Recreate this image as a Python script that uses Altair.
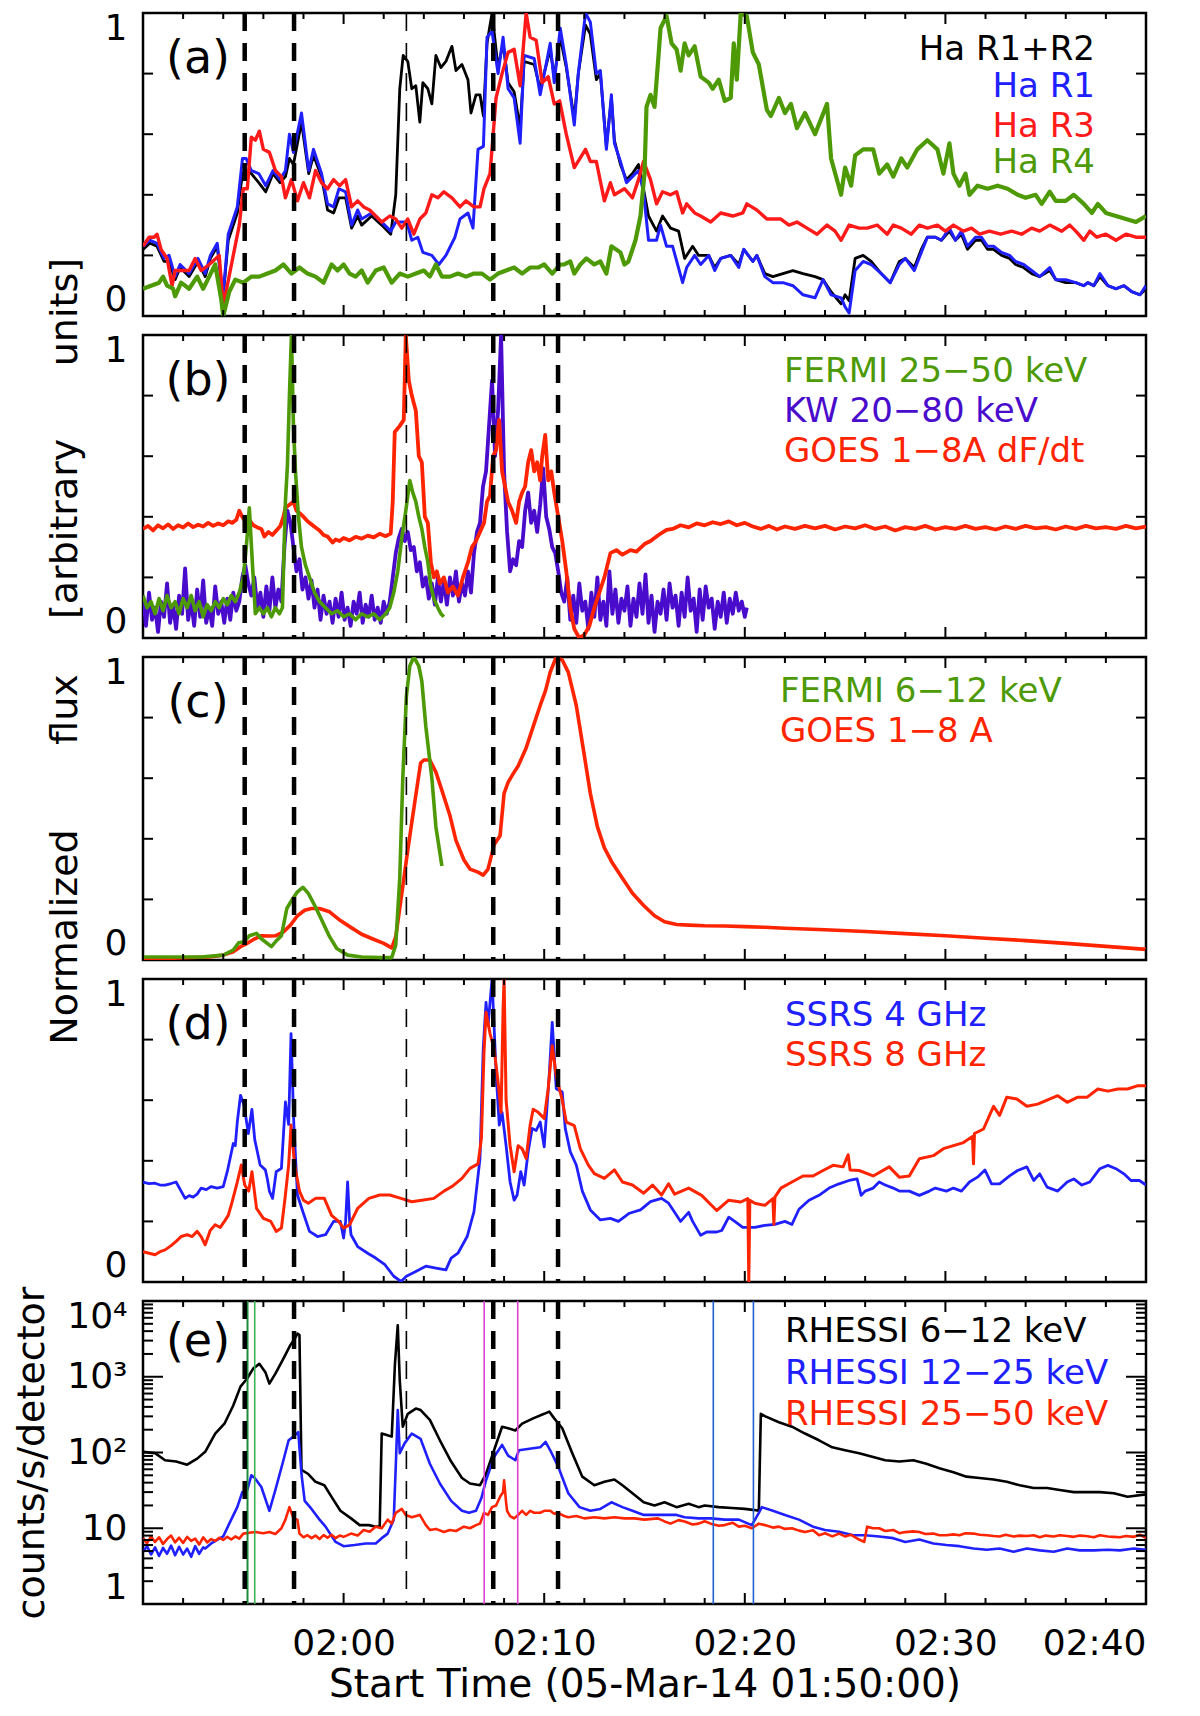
import altair as alt
import pandas as pd

FONT = "DejaVu Sans"
W, H = 1003, 303

# time axis: minutes after 01:50:00
DASHED_THICK = [5.07, 7.53, 17.46, 20.69]
DASHED_THIN = [13.13]
GREEN_MARKS = [5.21, 5.57]
MAGENTA_MARKS = [17.01, 18.68]
BLUE_MARKS = [28.43, 30.43]

X_MAJOR = [0, 10, 20, 30, 40, 50]
X_MINOR = [2, 4, 6, 8, 12, 14, 16, 18, 22, 24, 26, 28, 32, 34, 36, 38, 42, 44, 46, 48]
X_LABELS = [10, 20, 30, 40, 50]
Y_TICKS = [0.2, 0.4, 0.6, 0.8]
LOG_LABELS = [1, 10, 100, 1000, 10000]
LOG_MAJOR = [10, 100, 1000]
LOG_MINOR = [2, 3, 4, 5, 6, 7, 8, 9, 20, 30, 40, 50, 60, 70, 80, 90,
             200, 300, 400, 500, 600, 700, 800, 900,
             2000, 3000, 4000, 5000, 6000, 7000, 8000, 9000]

# ---- (a) H-alpha ribbons ----
HA_R12 = [(0,0.22),(0.34,0.24),(0.7,0.23),(1.05,0.18),(1.3,0.18),(1.6,0.12),(1.85,0.16),(2.3,0.13),(2.74,0.18),(3.1,0.13),(3.36,0.19),(3.7,0.23),(3.99,0.06),(4.25,0.25),(4.7,0.34),(4.96,0.47),(5.14,0.48),(5.4,0.47),(5.77,0.44),(6.12,0.41),(6.48,0.47),(6.83,0.44),(7.1,0.46),(7.3,0.52),(7.5,0.5),(7.9,0.64),(8.26,0.47),(8.5,0.53),(8.9,0.46),(9.2,0.35),(9.5,0.34),(9.77,0.39),(10.1,0.39),(10.4,0.29),(10.7,0.33),(10.9,0.3),(11.4,0.33),(11.9,0.3),(12.35,0.27),(12.6,0.4),(12.8,0.75),(12.97,0.86),(13.2,0.84),(13.4,0.75),(13.6,0.76),(13.8,0.64),(13.95,0.77),(14.2,0.75),(14.4,0.7),(14.6,0.86),(14.85,0.82),(15.1,0.84),(15.4,0.89),(15.6,0.81),(15.9,0.83),(16.2,0.78),(16.35,0.67),(16.6,0.73),(16.8,0.73),(16.97,0.66),(17.15,0.9),(17.4,1.0),(17.7,0.82),(17.95,0.9),(18.2,0.77),(18.5,0.74),(18.8,0.62),(19.0,0.84),(19.5,0.83),(19.8,0.75),(20.3,0.88),(20.5,0.79),(20.8,0.92),(21.1,0.82),(21.5,0.65),(21.7,0.8),(22.06,0.96),(22.3,0.93),(22.6,0.78),(22.8,0.8),(23.1,0.56),(23.35,0.72),(23.5,0.58),(23.8,0.5),(24.1,0.45),(24.4,0.47),(24.7,0.5),(24.95,0.42),(25.2,0.33),(25.6,0.28),(25.9,0.33),(26.3,0.29),(26.7,0.28),(27.0,0.19),(27.4,0.23),(27.7,0.2),(28.2,0.2),(28.5,0.16),(28.8,0.19),(29.3,0.2),(29.7,0.17),(29.95,0.22),(30.4,0.18),(30.6,0.2),(31.0,0.14),(31.4,0.13),(31.9,0.14),(32.4,0.15),(32.9,0.14),(33.5,0.13),(33.9,0.12),(34.3,0.08),(34.8,0.04),(35.0,0.07),(35.2,0.05),(35.5,0.19),(35.9,0.2),(36.3,0.18),(36.8,0.14),(37.25,0.11),(37.7,0.18),(38.0,0.19),(38.45,0.16),(38.8,0.22),(39.1,0.26),(39.5,0.26),(39.8,0.25),(40.2,0.28),(40.5,0.25),(40.8,0.27),(41.1,0.22),(41.5,0.25),(41.8,0.25),(42.1,0.22),(42.4,0.22),(42.8,0.2),(43.2,0.19),(43.5,0.17),(43.9,0.16),(44.3,0.14),(44.7,0.13),(45.2,0.15),(45.5,0.12),(46.0,0.11),(46.5,0.11),(46.9,0.1),(47.1,0.11),(47.4,0.1),(47.7,0.13),(48.1,0.1),(48.5,0.09),(48.9,0.1),(49.3,0.08),(49.7,0.07),(50,0.09)]
HA_R1 = [(0,0.23),(0.34,0.25),(0.7,0.24),(1.05,0.19),(1.3,0.2),(1.6,0.13),(1.85,0.17),(2.3,0.14),(2.74,0.19),(3.1,0.14),(3.36,0.2),(3.7,0.24),(3.99,0.065),(4.25,0.27),(4.7,0.36),(4.96,0.52),(5.14,0.52),(5.4,0.48),(5.77,0.47),(6.12,0.43),(6.48,0.48),(6.83,0.45),(7.1,0.48),(7.3,0.6),(7.5,0.54),(7.9,0.67),(8.26,0.48),(8.5,0.55),(8.9,0.47),(9.2,0.37),(9.5,0.36),(9.77,0.42),(10.1,0.41),(10.4,0.3),(10.7,0.35),(10.9,0.32),(11.4,0.34),(11.9,0.31),(12.35,0.28),(12.6,0.31),(13.15,0.31),(13.4,0.25),(13.7,0.26),(13.95,0.21),(14.4,0.2),(14.75,0.17),(15.1,0.2),(15.55,0.26),(15.8,0.32),(16.2,0.34),(16.45,0.29),(16.7,0.55),(16.97,0.56),(17.15,0.92),(17.4,0.94),(17.7,0.8),(17.95,0.92),(18.2,0.75),(18.5,0.72),(18.8,0.57),(19.0,0.86),(19.5,0.85),(19.8,0.73),(20.3,0.9),(20.5,0.77),(20.8,0.95),(21.1,0.83),(21.5,0.63),(21.7,0.8),(22.06,1.0),(22.3,0.97),(22.6,0.8),(22.8,0.81),(23.1,0.55),(23.35,0.73),(23.5,0.57),(23.8,0.51),(24.1,0.44),(24.4,0.46),(24.7,0.48),(24.95,0.41),(25.2,0.25),(25.6,0.25),(25.8,0.3),(26.1,0.23),(26.4,0.23),(26.9,0.11),(27.1,0.16),(27.5,0.2),(27.8,0.17),(28.2,0.2),(28.5,0.15),(28.8,0.19),(29.3,0.2),(29.7,0.16),(29.95,0.22),(30.4,0.18),(30.6,0.2),(31.0,0.13),(31.4,0.11),(31.9,0.11),(32.4,0.1),(32.9,0.07),(33.5,0.06),(33.9,0.12),(34.3,0.07),(34.8,0.06),(35.0,0.03),(35.2,0.01),(35.5,0.15),(35.9,0.18),(36.3,0.17),(36.8,0.14),(37.25,0.11),(37.7,0.17),(38.0,0.19),(38.45,0.15),(38.8,0.21),(39.1,0.26),(39.5,0.26),(39.8,0.25),(40.2,0.29),(40.5,0.25),(40.8,0.28),(41.1,0.23),(41.5,0.26),(41.8,0.26),(42.1,0.23),(42.4,0.23),(42.8,0.21),(43.2,0.2),(43.5,0.18),(43.9,0.17),(44.3,0.15),(44.7,0.13),(45.2,0.16),(45.5,0.12),(46.0,0.12),(46.5,0.11),(46.9,0.1),(47.1,0.11),(47.4,0.1),(47.7,0.14),(48.1,0.1),(48.5,0.09),(48.9,0.1),(49.3,0.08),(49.7,0.07),(50,0.1)]
HA_R3 = [(0,0.23),(0.3,0.26),(0.55,0.26),(0.7,0.27),(0.9,0.22),(1.2,0.19),(1.45,0.1),(1.6,0.15),(1.9,0.15),(2.3,0.15),(2.6,0.19),(2.9,0.15),(3.3,0.17),(3.8,0.2),(4.0,0.03),(4.2,0.1),(4.5,0.2),(4.8,0.3),(5.0,0.42),(5.2,0.42),(5.4,0.59),(5.6,0.58),(5.8,0.61),(6.0,0.55),(6.3,0.54),(6.6,0.48),(6.9,0.46),(7.1,0.39),(7.4,0.45),(7.7,0.38),(8.0,0.44),(8.3,0.39),(8.6,0.48),(8.9,0.44),(9.2,0.42),(9.5,0.45),(9.8,0.43),(10.1,0.45),(10.4,0.36),(10.7,0.38),(11.0,0.36),(11.3,0.35),(11.6,0.33),(11.9,0.31),(12.3,0.33),(12.6,0.32),(12.9,0.29),(13.2,0.32),(13.5,0.27),(13.8,0.32),(14.1,0.34),(14.4,0.4),(14.7,0.39),(15.0,0.41),(15.4,0.39),(15.8,0.36),(16.1,0.38),(16.5,0.36),(16.8,0.36),(17.0,0.42),(17.3,0.47),(17.6,0.72),(17.9,0.8),(18.2,0.87),(18.5,0.88),(18.8,0.76),(19.1,1.0),(19.3,0.92),(19.6,0.91),(19.9,0.77),(20.2,0.79),(20.5,0.7),(20.77,0.71),(21.1,0.6),(21.5,0.49),(22.06,0.55),(22.3,0.51),(22.6,0.51),(23.0,0.38),(23.3,0.44),(23.5,0.4),(24.0,0.42),(24.4,0.39),(24.7,0.45),(24.95,0.51),(25.3,0.45),(25.6,0.37),(25.9,0.41),(26.3,0.4),(26.6,0.41),(26.9,0.34),(27.1,0.37),(27.5,0.34),(27.8,0.33),(28.3,0.31),(28.8,0.34),(29.4,0.33),(29.9,0.34),(30.1,0.37),(30.6,0.35),(31.1,0.32),(31.8,0.32),(32.2,0.3),(32.6,0.31),(33.1,0.29),(33.6,0.27),(34.1,0.3),(34.5,0.28),(34.8,0.25),(35.2,0.3),(35.7,0.29),(36.1,0.29),(36.6,0.3),(37.1,0.27),(37.4,0.3),(37.8,0.29),(38.3,0.27),(38.7,0.3),(39.1,0.29),(39.6,0.3),(40.0,0.28),(40.4,0.3),(40.9,0.28),(41.3,0.29),(41.7,0.27),(42.2,0.28),(42.75,0.27),(43.3,0.28),(43.8,0.27),(44.3,0.29),(44.7,0.28),(45.2,0.3),(45.5,0.29),(45.8,0.28),(46.2,0.3),(46.5,0.28),(46.9,0.25),(47.2,0.28),(47.55,0.26),(48.0,0.27),(48.5,0.25),(49.0,0.27),(49.5,0.26),(50,0.26)]
HA_R4 = [(0,0.09),(0.4,0.1),(0.8,0.11),(1.0,0.13),(1.2,0.1),(1.5,0.09),(1.6,0.065),(1.9,0.11),(2.3,0.09),(2.7,0.13),(3.0,0.09),(3.3,0.13),(3.6,0.17),(3.9,0.055),(4.0,0.0),(4.3,0.08),(4.6,0.12),(5.0,0.11),(5.4,0.13),(5.8,0.13),(6.2,0.14),(6.6,0.15),(7.0,0.17),(7.4,0.14),(7.8,0.16),(8.2,0.14),(8.6,0.13),(9.0,0.11),(9.4,0.17),(9.7,0.15),(10.0,0.17),(10.3,0.14),(10.6,0.13),(10.9,0.15),(11.2,0.11),(11.6,0.15),(12.0,0.16),(12.4,0.11),(12.8,0.14),(13.2,0.13),(13.6,0.14),(14.0,0.15),(14.3,0.13),(14.6,0.17),(14.9,0.13),(15.3,0.13),(15.7,0.14),(16.1,0.13),(16.5,0.14),(16.9,0.14),(17.3,0.12),(17.7,0.14),(18.1,0.15),(18.5,0.16),(18.9,0.14),(19.3,0.16),(19.7,0.16),(20.0,0.17),(20.4,0.14),(20.8,0.17),(21.0,0.17),(21.3,0.18),(21.5,0.14),(21.8,0.17),(22.1,0.19),(22.5,0.17),(22.8,0.18),(23.1,0.14),(23.35,0.23),(23.8,0.21),(24.0,0.17),(24.2,0.18),(24.55,0.25),(24.8,0.33),(25.0,0.47),(25.1,0.69),(25.3,0.73),(25.5,0.69),(25.7,0.86),(25.8,0.95),(26.1,0.99),(26.35,0.9),(26.6,0.88),(26.8,0.81),(27.0,0.9),(27.2,0.86),(27.5,0.89),(27.8,0.79),(28.2,0.77),(28.4,0.75),(28.7,0.78),(29.0,0.71),(29.3,0.72),(29.45,0.9),(29.6,0.78),(29.8,1.0),(30.1,0.99),(30.4,0.87),(30.7,0.83),(31.1,0.68),(31.3,0.66),(31.7,0.72),(32.0,0.67),(32.3,0.7),(32.6,0.62),(33.0,0.67),(33.5,0.6),(34.1,0.7),(34.3,0.52),(34.8,0.4),(35.0,0.49),(35.3,0.43),(35.5,0.53),(35.9,0.55),(36.4,0.55),(36.7,0.47),(37.1,0.5),(37.4,0.46),(37.8,0.52),(38.1,0.49),(38.6,0.55),(39.1,0.58),(39.6,0.55),(39.9,0.47),(40.2,0.57),(40.4,0.47),(40.7,0.43),(41.0,0.47),(41.2,0.4),(41.6,0.43),(42.1,0.42),(42.6,0.43),(43.1,0.42),(43.6,0.4),(44.0,0.39),(44.5,0.4),(44.8,0.37),(45.2,0.41),(45.5,0.38),(46.0,0.38),(46.4,0.4),(46.9,0.37),(47.3,0.34),(47.6,0.37),(48.0,0.34),(48.5,0.33),(49.0,0.32),(49.5,0.31),(50,0.33)]

# ---- (b) hard X-ray and GOES derivative ----
FERMI_25_50 = [(0,0.14),(0.2,0.1),(0.4,0.12),(0.6,0.08),(0.8,0.13),(1.0,0.09),(1.2,0.14),(1.4,0.1),(1.6,0.12),(1.8,0.08),(2.0,0.13),(2.2,0.1),(2.4,0.14),(2.6,0.09),(2.8,0.12),(3.0,0.07),(3.2,0.11),(3.4,0.09),(3.6,0.12),(3.8,0.1),(4.0,0.13),(4.2,0.11),(4.4,0.14),(4.6,0.12),(4.8,0.15),(5.0,0.2),(5.15,0.3),(5.3,0.43),(5.45,0.25),(5.6,0.08),(5.8,0.1),(6.0,0.08),(6.2,0.1),(6.4,0.07),(6.6,0.1),(6.8,0.08),(6.95,0.1),(7.1,0.45),(7.2,0.57),(7.3,0.8),(7.4,1.0),(7.5,0.7),(7.6,0.55),(7.75,0.4),(7.9,0.3),(8.1,0.24),(8.3,0.2),(8.55,0.15),(8.8,0.12),(9.1,0.1),(9.4,0.08),(9.7,0.09),(10.0,0.07),(10.3,0.08),(10.6,0.06),(10.9,0.08),(11.2,0.07),(11.5,0.08),(11.8,0.06),(12.1,0.08),(12.3,0.1),(12.5,0.15),(12.7,0.22),(12.9,0.33),(13.1,0.42),(13.3,0.52),(13.45,0.48),(13.6,0.45),(13.75,0.4),(13.9,0.36),(14.05,0.3),(14.2,0.25),(14.35,0.17),(14.5,0.13),(14.7,0.1),(14.85,0.08),(15.0,0.07)]
KW_20_80 = [(0,0.14),(0.15,0.04),(0.3,0.15),(0.45,0.06),(0.6,0.1),(0.75,0.02),(0.9,0.12),(1.05,0.07),(1.2,0.18),(1.35,0.05),(1.5,0.11),(1.65,0.03),(1.8,0.14),(1.95,0.08),(2.1,0.23),(2.25,0.06),(2.4,0.12),(2.55,0.04),(2.7,0.16),(2.85,0.07),(3.0,0.19),(3.15,0.05),(3.3,0.1),(3.45,0.04),(3.6,0.17),(3.75,0.08),(3.9,0.12),(4.05,0.05),(4.2,0.13),(4.35,0.06),(4.5,0.15),(4.65,0.09),(4.8,0.12),(4.95,0.2),(5.1,0.24),(5.25,0.18),(5.4,0.14),(5.55,0.2),(5.7,0.1),(5.85,0.15),(6.0,0.07),(6.15,0.17),(6.3,0.09),(6.45,0.2),(6.6,0.1),(6.75,0.16),(6.9,0.12),(7.05,0.3),(7.2,0.42),(7.35,0.38),(7.5,0.3),(7.65,0.22),(7.8,0.26),(7.95,0.16),(8.1,0.2),(8.25,0.13),(8.4,0.19),(8.55,0.1),(8.7,0.16),(8.85,0.06),(9.0,0.14),(9.15,0.08),(9.3,0.12),(9.45,0.05),(9.6,0.13),(9.75,0.07),(9.9,0.15),(10.05,0.06),(10.2,0.1),(10.35,0.04),(10.5,0.12),(10.65,0.08),(10.8,0.15),(10.95,0.05),(11.1,0.11),(11.25,0.07),(11.4,0.14),(11.55,0.06),(11.7,0.1),(11.85,0.05),(12.0,0.12),(12.15,0.08),(12.3,0.12),(12.45,0.2),(12.6,0.28),(12.75,0.33),(12.9,0.36),(13.05,0.32),(13.2,0.35),(13.35,0.29),(13.5,0.3),(13.65,0.22),(13.8,0.25),(13.95,0.17),(14.1,0.2),(14.25,0.13),(14.4,0.18),(14.55,0.11),(14.7,0.2),(14.85,0.12),(15.0,0.19),(15.15,0.11),(15.3,0.2),(15.45,0.14),(15.6,0.22),(15.75,0.12),(15.9,0.18),(16.05,0.14),(16.2,0.22),(16.35,0.15),(16.5,0.28),(16.65,0.35),(16.8,0.38),(16.95,0.5),(17.1,0.55),(17.25,0.7),(17.4,0.85),(17.55,0.6),(17.7,0.75),(17.85,1.0),(18.0,0.55),(18.15,0.35),(18.3,0.22),(18.45,0.26),(18.6,0.24),(18.75,0.32),(18.9,0.3),(19.05,0.42),(19.2,0.48),(19.35,0.38),(19.5,0.42),(19.65,0.35),(19.8,0.44),(19.95,0.56),(20.1,0.4),(20.25,0.36),(20.4,0.3),(20.55,0.28),(20.7,0.22),(20.85,0.15),(21.0,0.12),(21.15,0.2),(21.3,0.06),(21.45,0.14),(21.6,0.05),(21.75,0.18),(21.9,0.09),(22.05,0.12),(22.2,0.03),(22.35,0.15),(22.5,0.07),(22.65,0.2),(22.8,0.06),(22.95,0.12),(23.1,0.04),(23.25,0.22),(23.4,0.08),(23.55,0.16),(23.7,0.05),(23.85,0.13),(24.0,0.09),(24.15,0.17),(24.3,0.04),(24.45,0.13),(24.6,0.07),(24.75,0.18),(24.9,0.08),(25.05,0.21),(25.2,0.05),(25.35,0.14),(25.5,0.02),(25.65,0.12),(25.8,0.08),(25.95,0.16),(26.1,0.06),(26.25,0.18),(26.4,0.1),(26.55,0.14),(26.7,0.04),(26.85,0.15),(27.0,0.07),(27.15,0.2),(27.3,0.09),(27.45,0.13),(27.6,0.02),(27.75,0.16),(27.9,0.06),(28.05,0.17),(28.2,0.1),(28.35,0.13),(28.5,0.03),(28.65,0.12),(28.8,0.07),(28.95,0.15),(29.1,0.05),(29.25,0.13),(29.4,0.08),(29.55,0.15),(29.7,0.09),(29.85,0.12),(30.0,0.07),(30.1,0.1)]
GOES_DFDT = [(0,0.36),(0.25,0.37),(0.5,0.355),(0.75,0.372),(1.0,0.362),(1.25,0.375),(1.5,0.36),(1.75,0.372),(2.0,0.365),(2.25,0.378),(2.5,0.366),(2.75,0.374),(3.0,0.368),(3.25,0.38),(3.5,0.37),(3.75,0.378),(4.0,0.372),(4.25,0.385),(4.45,0.38),(4.65,0.39),(4.8,0.42),(4.95,0.4),(5.1,0.385),(5.3,0.39),(5.5,0.372),(5.7,0.365),(5.9,0.36),(6.05,0.335),(6.25,0.35),(6.45,0.34),(6.65,0.355),(6.85,0.37),(7.0,0.4),(7.1,0.43),(7.3,0.44),(7.5,0.45),(7.65,0.42),(7.85,0.41),(8.0,0.4),(8.2,0.385),(8.4,0.375),(8.6,0.365),(8.8,0.355),(9.0,0.34),(9.2,0.335),(9.45,0.315),(9.6,0.325),(9.8,0.32),(10.0,0.33),(10.3,0.322),(10.6,0.334),(10.9,0.328),(11.2,0.338),(11.5,0.332),(11.8,0.344),(12.1,0.336),(12.35,0.345),(12.45,0.45),(12.55,0.68),(12.8,0.7),(13.0,0.72),(13.1,1.0),(13.25,0.85),(13.4,0.8),(13.6,0.75),(13.75,0.6),(13.9,0.58),(14.05,0.4),(14.2,0.38),(14.35,0.25),(14.5,0.2),(14.65,0.22),(14.8,0.18),(15.0,0.2),(15.2,0.15),(15.45,0.17),(15.7,0.14),(15.95,0.2),(16.2,0.25),(16.4,0.3),(16.6,0.32),(16.8,0.35),(17.0,0.38),(17.15,0.45),(17.3,0.47),(17.45,0.6),(17.6,0.62),(17.75,0.72),(17.9,0.55),(18.05,0.5),(18.2,0.45),(18.4,0.42),(18.6,0.38),(18.75,0.45),(18.9,0.48),(19.05,0.5),(19.2,0.58),(19.35,0.62),(19.5,0.55),(19.65,0.58),(19.8,0.52),(19.9,0.6),(20.05,0.67),(20.2,0.52),(20.35,0.55),(20.5,0.48),(20.7,0.4),(20.9,0.32),(21.1,0.22),(21.3,0.1),(21.5,0.03),(21.75,0.0),(22.0,0.01),(22.25,0.04),(22.5,0.1),(22.8,0.16),(23.0,0.2),(23.3,0.28),(23.6,0.29),(23.9,0.275),(24.3,0.29),(24.6,0.285),(25.0,0.31),(25.3,0.32),(25.7,0.34),(26.1,0.357),(26.4,0.36),(26.8,0.372),(27.2,0.365),(27.6,0.378),(28.0,0.372),(28.4,0.382),(28.8,0.376),(29.2,0.385),(29.6,0.372),(30.0,0.38),(30.4,0.368),(30.8,0.36),(31.2,0.37),(31.6,0.358),(32.0,0.368),(32.5,0.36),(33.0,0.37),(33.5,0.362),(34.0,0.37),(34.5,0.358),(35.0,0.368),(35.5,0.362),(36.0,0.372),(36.5,0.36),(37.0,0.368),(37.5,0.355),(38.0,0.366),(38.5,0.36),(39.0,0.37),(39.5,0.358),(40.0,0.366),(40.5,0.36),(41.0,0.37),(41.5,0.36),(42.0,0.366),(42.5,0.358),(43.0,0.368),(43.5,0.36),(44.0,0.37),(44.5,0.362),(45.0,0.366),(45.5,0.358),(46.0,0.368),(46.5,0.36),(47.0,0.37),(47.5,0.362),(48.0,0.366),(48.5,0.36),(49.0,0.37),(49.5,0.362),(50,0.368)]

# ---- (c) thermal emission ----
FERMI_6_12 = [(0,0.01),(1.1,0.01),(2.9,0.01),(4.0,0.016),(4.5,0.033),(4.77,0.057),(5.04,0.06),(5.3,0.08),(5.66,0.088),(5.9,0.07),(6.4,0.044),(6.6,0.06),(6.9,0.08),(7.17,0.17),(7.44,0.2),(7.7,0.225),(7.97,0.24),(8.24,0.22),(8.6,0.175),(8.95,0.126),(9.3,0.077),(9.66,0.038),(10.2,0.016),(10.9,0.01),(11.8,0.008),(12.4,0.008),(12.6,0.05),(12.8,0.27),(12.95,0.6),(13.13,0.87),(13.3,0.97),(13.5,1.0),(13.75,0.97),(13.9,0.92),(14.1,0.77),(14.4,0.6),(14.6,0.44),(14.9,0.31)]
GOES_1_8 = [(0,0.003),(1.1,0.005),(2.4,0.008),(3.3,0.01),(4.0,0.016),(4.5,0.027),(4.86,0.044),(5.2,0.055),(5.57,0.07),(5.9,0.08),(6.3,0.079),(6.6,0.08),(7.0,0.093),(7.35,0.115),(7.7,0.146),(8.06,0.164),(8.4,0.17),(8.8,0.17),(9.3,0.159),(9.84,0.13),(10.4,0.106),(10.9,0.085),(11.4,0.071),(12.0,0.055),(12.4,0.04),(12.6,0.077),(12.86,0.2),(13.13,0.33),(13.4,0.455),(13.67,0.575),(13.84,0.65),(14.0,0.66),(14.3,0.66),(14.6,0.62),(14.9,0.56),(15.3,0.477),(15.6,0.395),(16.0,0.33),(16.3,0.3),(16.7,0.29),(16.96,0.28),(17.2,0.3),(17.5,0.38),(17.8,0.41),(18.0,0.55),(18.2,0.586),(18.5,0.62),(18.7,0.64),(19.1,0.7),(19.45,0.77),(19.8,0.84),(20.07,0.89),(20.3,0.95),(20.6,1.0),(20.9,0.99),(21.2,0.95),(21.6,0.84),(21.94,0.7),(22.3,0.55),(22.65,0.44),(23.0,0.37),(23.4,0.32),(23.9,0.27),(24.4,0.22),(24.96,0.18),(25.5,0.146),(26.0,0.126),(26.6,0.117),(27.2,0.115),(28,0.113),(29,0.112),(30,0.11),(31,0.108),(32,0.105),(34,0.1),(36,0.094),(38,0.087),(40,0.08),(42,0.072),(44,0.064),(46,0.055),(48,0.045),(50,0.035)]

# ---- (d) SSRS radio ----
SSRS_4 = [(0,0.33),(0.3,0.325),(0.6,0.326),(0.85,0.32),(1.1,0.32),(1.4,0.325),(1.65,0.33),(1.9,0.3),(2.1,0.276),(2.3,0.285),(2.5,0.28),(2.7,0.29),(2.9,0.31),(3.15,0.305),(3.4,0.315),(3.7,0.31),(4.0,0.315),(4.2,0.364),(4.5,0.457),(4.6,0.45),(4.7,0.528),(4.86,0.616),(4.95,0.6),(5.04,0.583),(5.25,0.49),(5.43,0.57),(5.57,0.47),(5.84,0.386),(6.1,0.37),(6.2,0.34),(6.3,0.3),(6.46,0.276),(6.64,0.364),(6.9,0.375),(7.1,0.594),(7.26,0.52),(7.38,0.82),(7.52,0.52),(7.7,0.287),(7.97,0.232),(8.3,0.167),(8.7,0.15),(9.1,0.156),(9.5,0.2),(9.84,0.2),(10.0,0.145),(10.1,0.2),(10.2,0.33),(10.3,0.2),(10.37,0.156),(10.7,0.117),(11.2,0.095),(11.6,0.079),(12.06,0.057),(12.5,0.019),(12.86,0.002),(13.13,0.019),(13.6,0.035),(14.1,0.052),(14.6,0.046),(15.1,0.04),(15.36,0.079),(15.7,0.095),(16.16,0.15),(16.5,0.232),(16.8,0.408),(16.96,0.77),(17.1,0.923),(17.2,0.846),(17.4,1.0),(17.6,0.693),(17.76,0.518),(17.9,0.56),(18.1,0.45),(18.3,0.33),(18.5,0.27),(18.65,0.287),(18.83,0.364),(19.0,0.32),(19.2,0.43),(19.4,0.507),(19.6,0.5),(19.8,0.528),(20.0,0.446),(20.25,0.682),(20.4,0.857),(20.6,0.638),(20.9,0.627),(21.05,0.507),(21.3,0.43),(21.6,0.386),(21.9,0.3),(22.3,0.238),(22.8,0.205),(23.3,0.21),(23.7,0.2),(24.25,0.227),(24.8,0.238),(25.3,0.265),(25.85,0.276),(26.2,0.26),(26.5,0.23),(26.8,0.2),(27.2,0.23),(27.4,0.2),(27.8,0.154),(28.1,0.165),(28.6,0.165),(28.85,0.17),(29.2,0.214),(29.5,0.2),(29.9,0.18),(30.5,0.18),(31.0,0.187),(31.5,0.19),(32.0,0.2),(32.35,0.19),(32.7,0.24),(33.2,0.27),(33.7,0.286),(34.2,0.31),(34.7,0.324),(35.2,0.335),(35.6,0.34),(35.8,0.286),(36.0,0.3),(36.4,0.31),(36.7,0.33),(37.0,0.32),(37.4,0.31),(37.7,0.3),(38.2,0.3),(38.7,0.286),(39.2,0.3),(39.5,0.31),(40.05,0.3),(40.4,0.31),(40.8,0.3),(41.2,0.33),(41.6,0.346),(41.97,0.37),(42.3,0.324),(42.7,0.324),(43.2,0.35),(43.6,0.368),(44.06,0.38),(44.4,0.335),(44.7,0.357),(45.07,0.313),(45.6,0.3),(46.07,0.33),(46.4,0.34),(46.8,0.32),(47.2,0.33),(47.7,0.374),(48.1,0.385),(48.5,0.374),(48.9,0.357),(49.25,0.335),(49.67,0.335),(50,0.32)]
SSRS_8 = [(0,0.1),(0.3,0.095),(0.6,0.09),(0.85,0.1),(1.1,0.106),(1.4,0.12),(1.65,0.134),(1.9,0.15),(2.2,0.156),(2.45,0.15),(2.7,0.167),(2.9,0.15),(3.1,0.123),(3.35,0.17),(3.6,0.189),(3.85,0.18),(4.06,0.2),(4.25,0.22),(4.4,0.254),(4.7,0.33),(4.9,0.386),(5.07,0.32),(5.27,0.3),(5.43,0.364),(5.66,0.243),(6.0,0.21),(6.37,0.2),(6.64,0.167),(6.9,0.178),(7.08,0.276),(7.26,0.386),(7.38,0.518),(7.56,0.386),(7.8,0.3),(8.0,0.27),(8.24,0.26),(8.6,0.276),(9.04,0.276),(9.4,0.22),(9.75,0.2),(10.0,0.178),(10.3,0.189),(10.7,0.243),(11.26,0.276),(11.8,0.287),(12.3,0.287),(12.86,0.276),(13.4,0.265),(13.9,0.27),(14.5,0.276),(15.0,0.3),(15.4,0.315),(15.9,0.342),(16.3,0.375),(16.7,0.39),(16.87,0.474),(17.0,0.76),(17.1,0.89),(17.3,0.82),(17.5,0.77),(17.7,0.66),(17.85,0.56),(17.95,0.9),(18.0,1.0),(18.1,0.6),(18.3,0.45),(18.5,0.364),(18.7,0.45),(18.9,0.44),(19.1,0.408),(19.3,0.518),(19.45,0.57),(19.7,0.56),(20.0,0.54),(20.2,0.638),(20.4,0.78),(20.6,0.68),(20.9,0.6),(21.1,0.528),(21.5,0.516),(21.8,0.44),(22.2,0.386),(22.5,0.358),(23.0,0.342),(23.5,0.37),(23.9,0.33),(24.4,0.32),(24.96,0.293),(25.4,0.32),(25.85,0.287),(26.2,0.324),(26.5,0.29),(27.2,0.31),(27.85,0.286),(28.6,0.236),(29.2,0.27),(29.8,0.264),(30.15,0.275),(30.2,0.0),(30.25,0.27),(30.5,0.26),(31.0,0.253),(31.4,0.275),(31.45,0.19),(31.5,0.28),(31.8,0.31),(32.35,0.33),(32.9,0.35),(33.4,0.35),(33.9,0.368),(34.4,0.385),(34.9,0.38),(35.15,0.42),(35.25,0.37),(35.7,0.368),(36.4,0.35),(37.2,0.38),(37.7,0.346),(38.2,0.35),(38.7,0.407),(39.4,0.417),(39.9,0.44),(40.4,0.45),(40.9,0.46),(41.35,0.48),(41.4,0.39),(41.45,0.49),(41.9,0.505),(42.2,0.55),(42.4,0.58),(42.7,0.55),(43.06,0.61),(43.56,0.604),(44.06,0.58),(44.6,0.587),(45.07,0.6),(45.6,0.615),(46.07,0.593),(46.6,0.61),(47.07,0.61),(47.6,0.637),(48.1,0.63),(48.6,0.637),(49.08,0.637),(49.6,0.648),(50,0.648)]

# ---- (e) RHESSI count rates ----
RHESSI_6_12 = [(0,102),(0.6,98),(1.1,79),(1.65,76),(2.2,69),(2.7,83),(3.1,102),(3.6,178),(4.06,240),(4.5,417),(4.86,741),(5.2,955),(5.5,1290),(5.8,1480),(6.1,1150),(6.3,813),(6.6,1100),(7.0,1740),(7.35,2630),(7.56,3160),(7.7,3720),(7.8,3550),(7.9,59),(8.24,52),(8.6,41),(9.04,37),(9.4,26),(9.84,17),(10.37,13.5),(10.8,11),(11.26,11),(11.6,10.5),(11.8,10.5),(11.9,178),(12.15,170),(12.4,162),(12.56,1480),(12.7,4790),(12.8,890),(12.95,219),(13.2,324),(13.6,380),(13.84,363),(14.3,269),(14.8,145),(15.36,76),(15.9,46),(16.3,39),(16.8,37),(17.1,52),(17.5,107),(17.9,219),(18.2,209),(18.56,195),(18.9,240),(19.45,282),(20.0,324),(20.25,347),(20.5,282),(20.9,209),(21.4,98),(21.9,48),(22.5,37),(23.0,41),(23.5,44),(23.9,37),(24.4,29),(24.96,22),(25.5,20),(26.0,22),(26.6,19),(27.2,21),(27.7,19),(28.0,20),(28.7,19),(29.35,18.5),(30.0,18),(30.4,17.5),(30.7,17),(30.8,324),(31.0,302),(31.7,251),(32.35,219),(33.0,178),(33.7,145),(34.36,117),(35.0,107),(35.7,98),(36.4,87),(37.0,79),(37.7,76),(38.4,79),(39.05,71),(39.7,62),(40.4,55),(41.05,48),(41.7,46),(42.4,44),(43.06,41),(43.7,37),(44.4,34),(45.07,34),(45.7,32),(46.4,30),(47.07,30),(47.7,30),(48.4,29),(49.08,26),(50,28)]
RHESSI_12_25 = [(0,4.9),(0.2,5.8),(0.4,4.5),(0.6,5.6),(0.8,4.3),(1.0,5.5),(1.2,4.6),(1.4,5.9),(1.6,4.4),(1.8,5.7),(2.0,4.5),(2.2,5.4),(2.4,4.2),(2.6,5.8),(2.8,4.6),(3.0,5.6),(3.1,5.4),(3.4,6.3),(4.0,7.8),(4.3,11.5),(4.7,19),(4.95,30),(5.2,32),(5.4,50),(5.57,46),(5.9,35),(6.3,17),(6.6,32),(7.0,79),(7.26,145),(7.5,162),(7.74,186),(7.9,52),(8.06,23),(8.4,18),(8.8,13),(9.1,10.5),(9.6,6.6),(10.0,5.8),(10.55,6.0),(11.1,6.3),(11.6,6.3),(11.9,7.4),(12.2,8.5),(12.5,13),(12.6,65),(12.7,363),(12.8,98),(13.04,132),(13.4,178),(13.84,151),(14.3,71),(14.8,39),(15.36,23),(15.9,17),(16.25,16),(16.6,17),(16.87,25),(17.1,43),(17.5,87),(17.9,126),(18.2,91),(18.56,79),(18.74,107),(19.27,112),(19.8,117),(20.07,138),(20.3,107),(20.7,65),(21.2,29),(21.76,19),(22.3,17),(22.8,18),(23.35,22),(23.9,19),(24.4,17),(24.96,15),(25.5,15),(26.0,15),(26.6,15),(27.0,14),(27.7,13.5),(28.3,13.5),(29.0,13),(29.7,13),(30.35,11),(30.7,16),(30.85,19),(31.4,17),(32.0,15),(32.7,13),(33.4,10.5),(34.0,9.5),(34.7,9),(35.4,8.1),(36.0,8.1),(36.7,7.8),(37.4,7.4),(38.0,6.6),(38.7,7.1),(39.4,6.3),(40.05,6.0),(40.7,5.8),(41.4,5.4),(42.06,5.2),(42.7,5.4),(43.4,4.9),(44.06,5.4),(44.7,5.1),(45.4,4.9),(46.07,5.4),(46.7,5.1),(47.4,5.1),(48.1,5.2),(48.7,5.1),(49.4,5.4),(50,5.2)]
RHESSI_25_50 = [(0,7.4),(0.2,6.3),(0.4,7.8),(0.6,6.6),(0.8,7.6),(1.0,6.2),(1.2,7.2),(1.4,8.0),(1.6,6.5),(1.8,7.5),(2.0,6.4),(2.2,7.7),(2.4,6.8),(2.6,7.3),(2.8,6.1),(3.0,7.6),(3.2,6.5),(3.4,7.2),(3.6,6.8),(3.8,7.5),(4.0,7.0),(4.2,7.7),(4.4,7.1),(4.6,7.8),(4.8,7.3),(5.0,8.5),(5.3,8.7),(5.6,8.9),(6.0,8.6),(6.3,8.9),(6.6,8.4),(6.9,10),(7.1,13),(7.3,19),(7.5,13.5),(7.7,13),(7.8,8.5),(8.0,7.6),(8.2,8.1),(8.4,7.4),(8.6,8.0),(8.8,7.2),(9.0,8.1),(9.2,7.5),(9.4,8.2),(9.6,7.4),(9.8,8.0),(10.0,7.7),(10.37,8.5),(10.7,8.0),(11.0,9.5),(11.3,9.0),(11.6,10.5),(11.9,10),(12.2,13),(12.4,11.5),(12.6,16),(12.9,18),(13.1,15),(13.4,14),(13.8,15),(14.1,11),(14.3,9.5),(14.6,9.8),(15.0,8.9),(15.3,9.5),(15.6,9.2),(16.0,10.5),(16.3,10),(16.6,11),(16.8,11.5),(17.0,16),(17.2,15),(17.4,19),(17.6,20),(17.8,26),(17.95,30),(18.0,43),(18.1,22),(18.15,17),(18.3,14.5),(18.5,13.5),(18.7,15),(18.9,17),(19.1,15),(19.3,17),(19.5,16),(19.8,16),(20.0,17),(20.3,17),(20.5,15.5),(20.7,16),(21.0,14.5),(21.2,14),(21.6,14.5),(22.0,13.5),(22.5,14),(23.0,13.5),(23.5,14),(24.0,13.5),(24.5,13.5),(25.0,13),(25.67,13.5),(26.0,12.3),(26.3,11.5),(26.7,12.8),(27.0,12.3),(27.4,11.2),(27.7,11.5),(28.0,12.4),(28.3,11.5),(28.7,10.8),(29.0,11),(29.4,11.8),(29.7,10.5),(30.0,10.8),(30.35,10),(30.7,11.5),(31.0,11),(31.4,10.2),(31.7,10.5),(32.0,9.8),(32.35,10),(32.7,9.3),(33.0,8.9),(33.4,9.4),(33.7,8.1),(34.0,8.6),(34.36,7.8),(34.7,8.5),(35.0,7.8),(35.3,8.2),(35.7,7.1),(35.95,6.6),(36.1,10.5),(36.4,10),(36.7,10),(37.0,9.2),(37.4,9.5),(37.7,8.6),(38.0,8.9),(38.4,9.1),(38.7,8.9),(39.0,8.4),(39.4,8.5),(39.7,8.1),(40.05,8.1),(40.4,8.3),(40.7,8.1),(41.0,8.6),(41.4,8.5),(41.7,8.2),(42.06,8.1),(42.4,7.9),(42.7,7.8),(43.0,8.2),(43.4,7.8),(43.7,8.0),(44.06,7.9),(44.4,8.1),(44.7,7.6),(45.0,8.0),(45.4,7.8),(45.7,8.1),(46.07,7.9),(46.4,7.7),(46.7,8.0),(47.0,7.9),(47.4,7.6),(47.7,8.1),(48.1,7.8),(48.4,7.7),(48.7,7.6),(49.0,7.9),(49.4,7.7),(49.7,8.2),(50,7.5)]

BLACK = "#000000"
BLUE = "#2020ff"
RED = "#ff1a1a"
ORANGE_RED = "#ff2400"
GREEN = "#4d9a06"
PURPLE = "#4a0ccc"
NB = "\u00a0"

XS = alt.Scale(domain=[0, 50], nice=False, zero=False)
LIN = alt.Scale(domain=[0, 1], nice=False, zero=False)
LOG = alt.Scale(type="log", domain=[1, 10000], nice=False)


def frame(points):
    return pd.DataFrame(points, columns=["t", "v"])


def y_axis(values, label_expr=None, title=None, tx=None, ty=None):
    kw = dict(values=values, ticks=False, domain=False, grid=False, labelFlush=True,
              labelFlushOffset=2, labelFontSize=36, labelPadding=16, title=title)
    if label_expr:
        kw["labelExpr"] = label_expr
    else:
        kw["format"] = "d"
    if title:
        kw.update(titleAngle=270, titleBaseline="alphabetic", titleAlign="center",
                  titleFontSize=38, titleFontWeight="normal", titleX=tx)
        if ty is not None:
            kw["titleY"] = ty
    return alt.Axis(**kw)


def trace(points, color, width, x, y):
    return alt.Chart(frame(points)).mark_line(
        color=color, strokeWidth=width, clip=True, strokeJoin="round"
    ).encode(x=x, y=y)


def vlines(values, color, width, x, dash=None):
    opts = dict(color=color, strokeWidth=width)
    if dash:
        opts["strokeDash"] = dash
    return alt.Chart(pd.DataFrame({"t": values})).mark_rule(**opts).encode(x=x)


def x_ticks(x):
    out = []
    for vals, ln in ((X_MAJOR, 11), (X_MINOR, 6)):
        base = alt.Chart(pd.DataFrame({"t": vals})).mark_rule(color="black", strokeWidth=2)
        out.append(base.encode(x=x, y=alt.value(0), y2=alt.value(ln)))
        out.append(base.encode(x=x, y=alt.value(H), y2=alt.value(H - ln)))
    return out


def y_ticks(vals, ln, y):
    base = alt.Chart(pd.DataFrame({"v": vals})).mark_rule(color="black", strokeWidth=2)
    return [base.encode(y=y, x=alt.value(0), x2=alt.value(ln)),
            base.encode(y=y, x=alt.value(W), x2=alt.value(W - ln))]


def label(text, color, size, x_px, y_px, align):
    return alt.Chart(pd.DataFrame({"label": [text]})).mark_text(
        font=FONT, fontSize=size, color=color, align=align, baseline="middle"
    ).encode(x=alt.value(x_px), y=alt.value(y_px), text="label:N")


def event_lines(x):
    return [vlines(DASHED_THICK, "black", 4.5, x, [18, 12]),
            vlines(DASHED_THIN, "black", 1.6, x, [18, 12])]


X_HIDDEN = alt.X("t:Q", scale=XS, axis=None)
X_TIME = alt.X("t:Q", scale=XS, axis=alt.Axis(
    values=X_LABELS, labelExpr="datum.value == 10 ? '02:00' : '02:' + (datum.value - 10)",
    ticks=False, domain=False, grid=False, labelFlush=True, labelFontSize=36, labelPadding=22,
    title="Start Time (05-Mar-14 01:50:00)", titleFontSize=39, titleFontWeight="normal",
    titlePadding=4))

LEG = 34

# (a)
ya = alt.Y("v:Q", scale=LIN, axis=y_axis([0, 1]))
panel_a = alt.layer(
    trace(HA_R12, BLACK, 2.8, X_HIDDEN, ya),
    trace(HA_R1, BLUE, 3, X_HIDDEN, ya),
    trace(HA_R3, RED, 3.4, X_HIDDEN, ya),
    trace(HA_R4, GREEN, 4.2, X_HIDDEN, ya),
    *event_lines(X_HIDDEN),
    *x_ticks(X_HIDDEN), *y_ticks(Y_TICKS, 10, ya),
    label("(a)", "black", 46, 55, 46, "center"),
    label("Ha" + NB + "R1+R2", BLACK, LEG, 952, 37, "right"),
    label("Ha" + NB + "R1", BLUE, LEG, 952, 74, "right"),
    label("Ha" + NB + "R3", RED, LEG, 952, 114, "right"),
    label("Ha" + NB + "R4", GREEN, LEG, 952, 150, "right"),
).properties(width=W, height=H)

# (b)
yb = alt.Y("v:Q", scale=LIN, axis=y_axis([0, 1], title="[arbitrary" + NB * 6 + "units]", tx=-67, ty=103))
panel_b = alt.layer(
    trace(KW_20_80, PURPLE, 3.8, X_HIDDEN, yb),
    trace(GOES_DFDT, ORANGE_RED, 3.8, X_HIDDEN, yb),
    trace(FERMI_25_50, GREEN, 3.6, X_HIDDEN, yb),
    *event_lines(X_HIDDEN),
    *x_ticks(X_HIDDEN), *y_ticks(Y_TICKS, 10, yb),
    label("(b)", "black", 46, 55, 46, "center"),
    label("FERMI 25\u221250 keV", GREEN, LEG, 641, 37, "left"),
    label("KW 20\u221280 keV", PURPLE, LEG, 641, 77, "left"),
    label("GOES 1\u22128A dF/dt", ORANGE_RED, LEG, 641, 117, "left"),
).properties(width=W, height=H)

# (c)
yc = alt.Y("v:Q", scale=LIN, axis=y_axis([0, 1], title="Normalized" + NB * 7 + "flux", tx=-67, ty=202))
panel_c = alt.layer(
    trace(GOES_1_8, ORANGE_RED, 3.6, X_HIDDEN, yc),
    trace(FERMI_6_12, GREEN, 3.6, X_HIDDEN, yc),
    *event_lines(X_HIDDEN),
    *x_ticks(X_HIDDEN), *y_ticks(Y_TICKS, 10, yc),
    label("(c)", "black", 46, 55, 46, "center"),
    label("FERMI 6\u221212 keV", GREEN, LEG, 637, 35, "left"),
    label("GOES 1\u22128 A", ORANGE_RED, LEG, 637, 75, "left"),
).properties(width=W, height=H)

# (d)
yd = alt.Y("v:Q", scale=LIN, axis=y_axis([0, 1]))
panel_d = alt.layer(
    trace(SSRS_4, BLUE, 2.8, X_HIDDEN, yd),
    trace(SSRS_8, ORANGE_RED, 3, X_HIDDEN, yd),
    *event_lines(X_HIDDEN),
    *x_ticks(X_HIDDEN), *y_ticks(Y_TICKS, 10, yd),
    label("(d)", "black", 46, 55, 46, "center"),
    label("SSRS 4 GHz", BLUE, LEG, 642, 37, "left"),
    label("SSRS 8 GHz", ORANGE_RED, LEG, 642, 77, "left"),
).properties(width=W, height=H)

# (e)
log_expr = ("datum.value >= 10000 ? '10\u2074' : datum.value >= 1000 ? '10\u00b3' : "
            "datum.value >= 100 ? '10\u00b2' : datum.value >= 10 ? '10' : '1'")
ye = alt.Y("v:Q", scale=LOG, axis=y_axis(LOG_LABELS, label_expr=log_expr,
                                         title="counts/s/detector", tx=-100))
panel_e = alt.layer(
    trace(RHESSI_6_12, BLACK, 2.6, X_TIME, ye),
    trace(RHESSI_12_25, BLUE, 2.6, X_TIME, ye),
    trace(RHESSI_25_50, ORANGE_RED, 2.6, X_TIME, ye),
    vlines(GREEN_MARKS[:1], "#1e8a3c", 2, X_TIME),
    vlines(GREEN_MARKS[1:], "#3cb454", 1.6, X_TIME),
    vlines(MAGENTA_MARKS, "#e040d0", 1.6, X_TIME),
    vlines(BLUE_MARKS, "#2060d0", 1.6, X_TIME),
    *event_lines(X_TIME),
    *x_ticks(X_TIME), *y_ticks(LOG_MAJOR, 20, ye), *y_ticks(LOG_MINOR, 10, ye),
    label("(e)", "black", 46, 55, 41, "center"),
    label("RHESSI 6\u221212 keV", BLACK, LEG, 642, 31, "left"),
    label("RHESSI 12\u221225 keV", BLUE, LEG, 642, 73, "left"),
    label("RHESSI 25\u221250 keV", ORANGE_RED, LEG, 642, 114, "left"),
).properties(width=W, height=H)

chart = alt.vconcat(panel_a, panel_b, panel_c, panel_d, panel_e, spacing=19, bounds="flush").properties(
    padding={"left": 3, "top": 0, "right": 0, "bottom": 0}
).configure(font=FONT).configure_view(stroke="black", strokeWidth=2.5).configure_axis(
    labelFont=FONT, titleFont=FONT, labelColor="black", titleColor="black"
)

chart.save("out.html", embed_options={"renderer": "svg", "actions": False})
